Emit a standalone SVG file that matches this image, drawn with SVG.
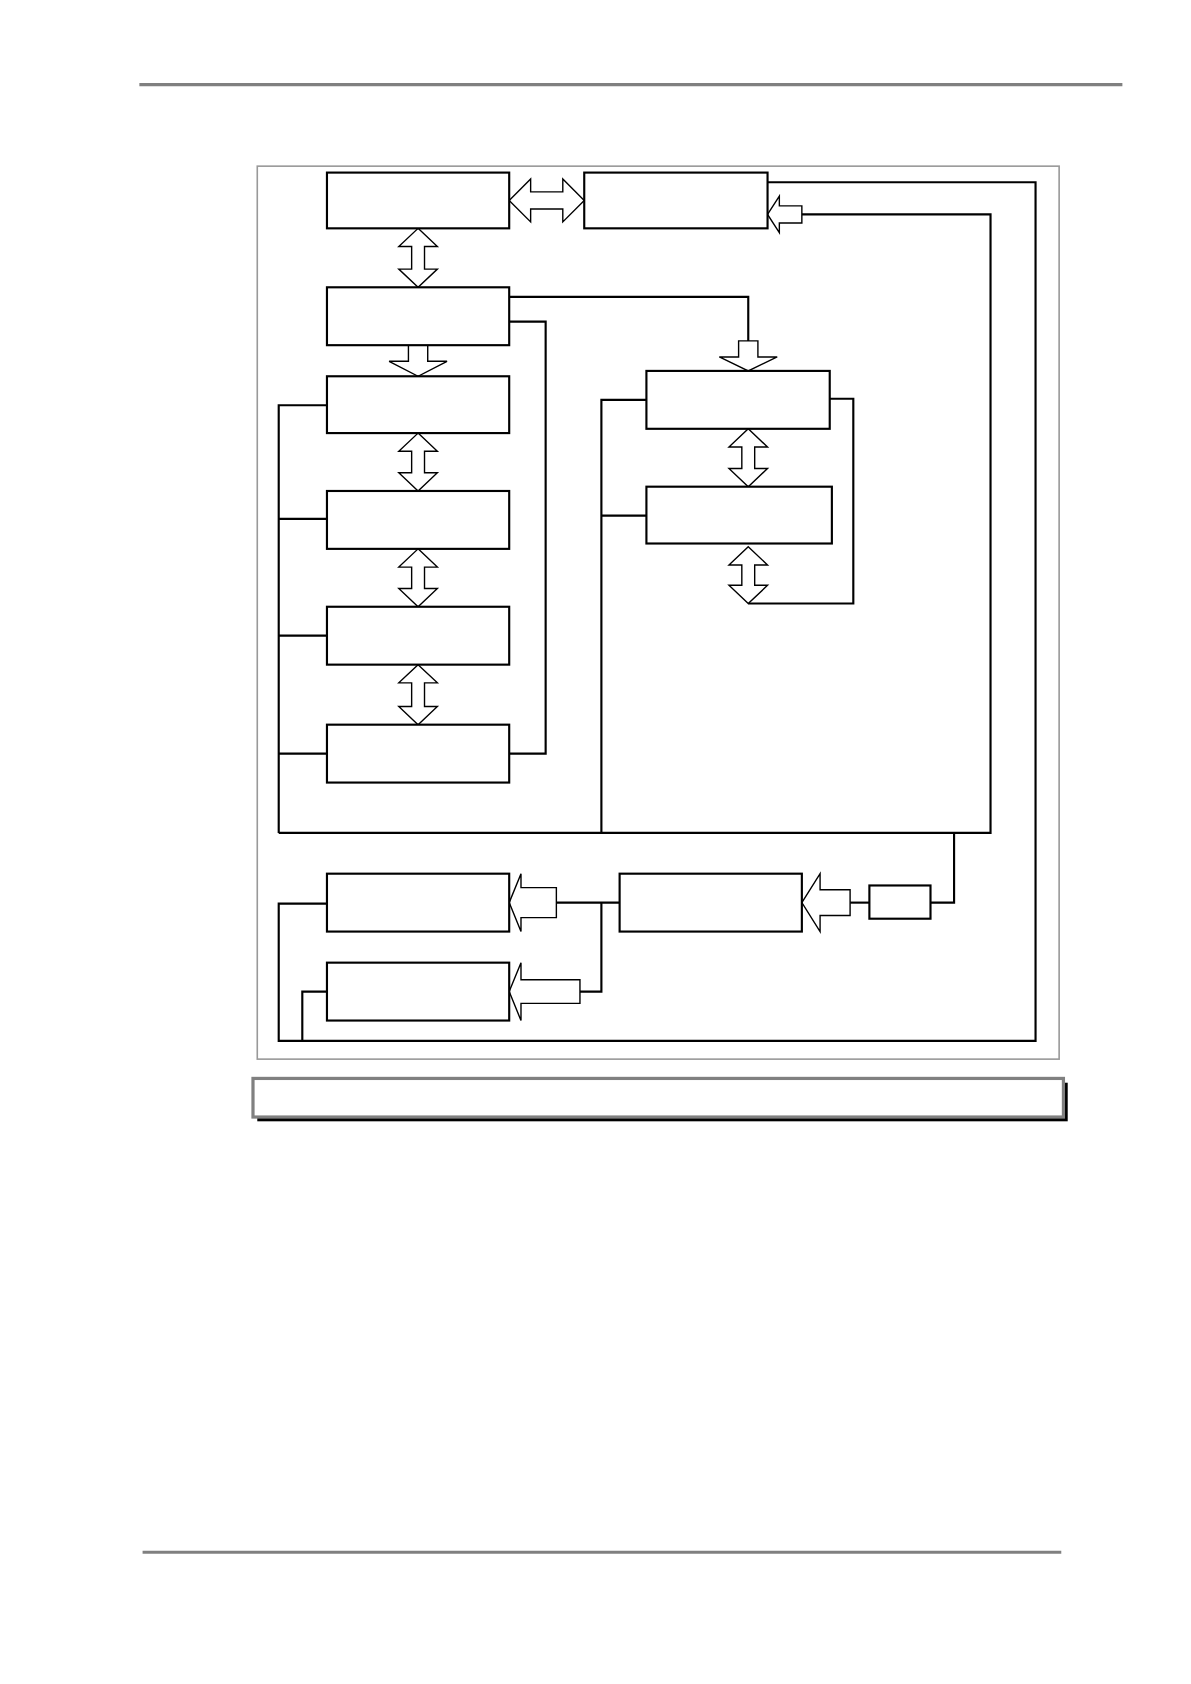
<svg xmlns="http://www.w3.org/2000/svg" width="1191" height="1684" viewBox="0 0 1191 1684">
<style>
.n{fill:#fff;stroke:#000;stroke-width:2}
.w{fill:none;stroke:#000;stroke-width:2}
.a{fill:#fff;stroke:#000;stroke-width:1.3}
.g{stroke:#808080;stroke-width:3}
</style>
<rect width="1191" height="1684" fill="#fff"/>
<g transform="scale(1.072)">
<line class="g" x1="130" y1="79" x2="1047" y2="79"/>
<line class="g" x1="133" y1="1448" x2="990" y2="1448"/>
<rect id="frame" x="240" y="155" width="748" height="833" fill="none" stroke="#999" stroke-width="1.5"/>
<g id="connectors">
<path class="w" d="M475,277 H698 V318"/>
<path class="w" d="M475,300 H509 V703 H475"/>
<path class="w" d="M305,378 H260 V777 M260,484 H305 M260,593 H305 M260,703 H305"/>
<path class="w" d="M260,777 H924 V200 H748"/>
<path class="w" d="M603,373 H561 V777 M561,481 H603"/>
<path class="w" d="M774,372 H796 V563 H698"/>
<path class="w" d="M716,170 H966 V971 H260 V843 H305"/>
<path class="w" d="M282,971 V925 H305"/>
<path class="w" d="M890,777 V842 H868"/>
<path class="w" d="M811,842 H793"/>
<path class="w" d="M578,842 H519 M561,842 V925 H541"/>
<path class="a" d="M390,213 L408,230 L396,230 L396,251 L408,251 L390,268 L372,251 L384,251 L384,230 L372,230 Z"/>
<path class="a" d="M390,404 L408,421 L396,421 L396,441 L408,441 L390,458 L372,441 L384,441 L384,421 L372,421 Z"/>
<path class="a" d="M390,512 L408,529 L396,529 L396,549 L408,549 L390,566 L372,549 L384,549 L384,529 L372,529 Z"/>
<path class="a" d="M390,620 L408,637 L396,637 L396,659 L408,659 L390,676 L372,659 L384,659 L384,637 L372,637 Z"/>
<path class="a" d="M698,400 L716,417 L704,417 L704,437 L716,437 L698,454 L680,437 L692,437 L692,417 L680,417 Z"/>
<path class="a" d="M698,510 L716,527 L704,527 L704,546 L716,546 L698,563 L680,546 L692,546 L692,527 L680,527 Z"/>
<path class="a" d="M475,187 L495,167 L495,179 L525,179 L525,167 L545,187 L525,207 L525,195 L495,195 L495,207 Z"/>
<path class="a" d="M381,322 L399,322 L399,337 L417,337 L390,351 L363,337 L381,337 Z"/>
<path class="a" d="M689,318 L707,318 L707,333 L725,333 L698,346 L671,333 L689,333 Z"/>
<path class="a" d="M716,200 L727,183 L727,192 L748,192 L748,208 L727,208 L727,217 Z"/>
<path class="a" d="M475,842 L486,815 L486,828 L519,828 L519,856 L486,856 L486,869 Z"/>
<path class="a" d="M475,925 L486,898 L486,914 L541,914 L541,936 L486,936 L486,952 Z"/>
<path class="a" d="M748,842 L765,815 L765,830 L793,830 L793,854 L765,854 L765,869 Z"/>
</g>
<g id="A"><rect class="n" x="305" y="161" width="170" height="52"/></g>
<g id="B"><rect class="n" x="545" y="161" width="171" height="52"/></g>
<g id="C"><rect class="n" x="305" y="268" width="170" height="54"/></g>
<g id="D"><rect class="n" x="305" y="351" width="170" height="53"/></g>
<g id="E"><rect class="n" x="305" y="458" width="170" height="54"/></g>
<g id="F"><rect class="n" x="305" y="566" width="170" height="54"/></g>
<g id="G"><rect class="n" x="305" y="676" width="170" height="54"/></g>
<g id="H"><rect class="n" x="603" y="346" width="171" height="54"/></g>
<g id="I"><rect class="n" x="603" y="454" width="173" height="53"/></g>
<g id="J"><rect class="n" x="305" y="815" width="170" height="54"/></g>
<g id="K"><rect class="n" x="305" y="898" width="170" height="54"/></g>
<g id="L"><rect class="n" x="578" y="815" width="170" height="54"/></g>
<g id="M"><rect class="n" x="811" y="826" width="57" height="31"/></g>
<g id="caption">
<rect x="240" y="1010" width="756" height="36" fill="#000"/>
<rect x="236" y="1006" width="756" height="36" fill="#fff" stroke="#808080" stroke-width="3"/>
</g>
</g>
</svg>
